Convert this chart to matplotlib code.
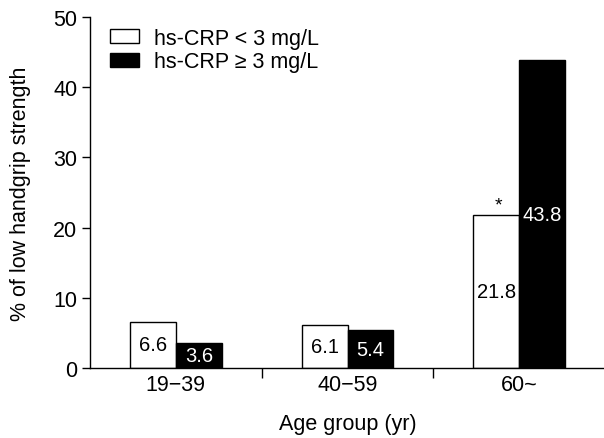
import matplotlib
matplotlib.use("Agg")
import matplotlib.pyplot as plt
import numpy as np

plt.rcParams['font.family'] = ['Liberation Sans', 'DejaVu Sans']

categories = ["19\u221239", "40\u221259", "60~"]
low_crp = [6.6, 6.1, 21.8]
high_crp = [3.6, 5.4, 43.8]
series_names = ["hs-CRP < 3 mg/L", "hs-CRP \u2265 3 mg/L"]
yticks = [0, 10, 20, 30, 40, 50]

fig = plt.figure(figsize=(6.04, 4.39), dpi=100)
ax = fig.add_axes([0.149, 0.159, 0.853, 0.801])

x = np.arange(len(categories)) + 0.5
w = 0.267
ax.bar(x - w/2, low_crp, w, color='white', edgecolor='black', linewidth=1.0, label=series_names[0])
ax.bar(x + w/2, high_crp, w, color='black', edgecolor='black', linewidth=1.0, label=series_names[1])

for xi, v in zip(x - w/2, low_crp):
    ax.text(xi, v/2, f"{v:.1f}", ha='center', va='center', fontsize=14.5, color='black')
for xi, v in zip(x + w/2, high_crp):
    ax.text(xi, v/2, f"{v:.1f}", ha='center', va='center', fontsize=14.5, color='white')

# significance marker
ax.text(x[2] - w/2 + 0.01, low_crp[2] + 0.2, "*", ha='center', va='bottom', fontsize=14)

ax.set_xlim(0, 3)
ax.set_ylim(0, 50)
ax.set_yticks(yticks)
ax.set_xticks(x)
ax.set_xticklabels(categories, fontsize=15.5)
ax.tick_params(axis='x', length=0, pad=4)
ax.set_xticks([1, 2], minor=True)
ax.tick_params(axis='x', which='minor', length=7, width=1, direction='out')
ax.tick_params(axis='y', labelsize=15.5, length=6, width=1, direction='out', pad=3)
for s in ['top', 'right']:
    ax.spines[s].set_visible(False)
ax.spines['left'].set_linewidth(1)
ax.spines['bottom'].set_linewidth(1)

ax.set_ylabel("% of low handgrip strength", fontsize=15.5, labelpad=16)
ax.set_xlabel("Age group (yr)", fontsize=15.5, labelpad=13)

ax.legend(loc='upper left', bbox_to_anchor=(0.039, 0.968), frameon=False, fontsize=15.5,
          handlelength=1.35, handleheight=0.65, handletextpad=0.7, labelspacing=0.12,
          borderpad=0, borderaxespad=0)

fig.savefig("out.png", dpi=100)
